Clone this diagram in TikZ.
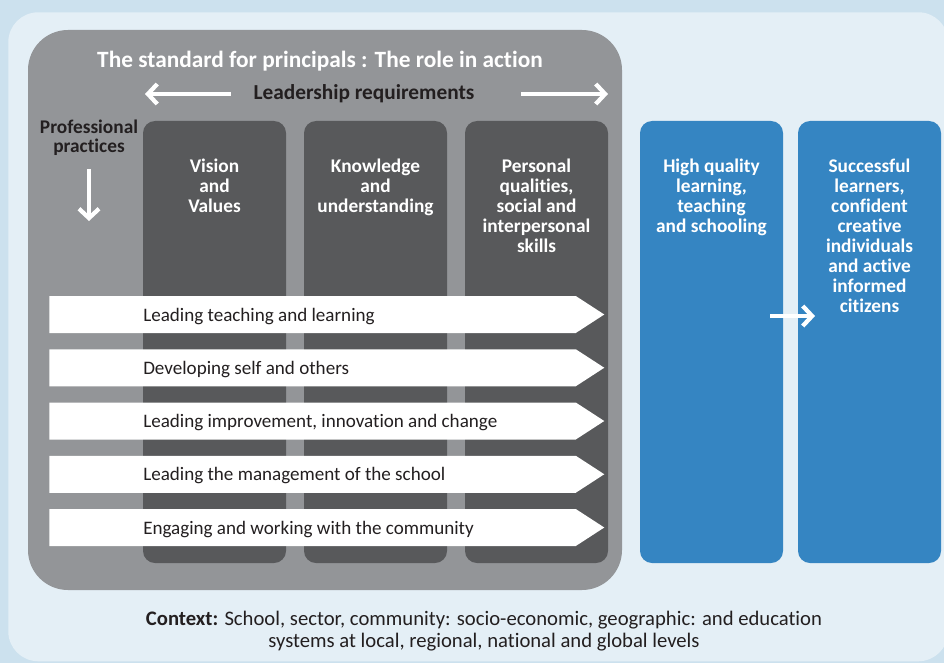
\documentclass[tikz,border=0pt]{standalone}
\usepackage{fontspec}
\setmainfont{Carlito}[Ligatures=NoCommon]
\usetikzlibrary{arrows.meta,shapes.symbols,positioning}

\definecolor{skyback}{HTML}{CCE1EE}
\definecolor{panelblue}{HTML}{E4EFF6}
\definecolor{stdgray}{HTML}{939598}
\definecolor{coldark}{HTML}{58595B}
\definecolor{outblue}{HTML}{3585C2}
\definecolor{inkblack}{HTML}{231F20}

\begin{document}
\begin{tikzpicture}[x=0.75pt,y=-0.75pt,>={Straight Barb[length=7pt,width=15pt]},
    colbox/.style={fill=coldark,rounded corners=9pt,minimum width=107.25pt,minimum height=331.5pt,inner sep=0pt},
    outbox/.style={colbox,fill=outblue},
    coltext/.style={text=white,font=\bfseries\fontsize{14.5}{15}\selectfont,align=center,anchor=north,inner sep=0pt},
    lead/.style={signal,signal to=east,fill=white,minimum width=416.25pt,minimum height=27.75pt,signal pointer angle=66,anchor=west,inner sep=0pt},
    leadtext/.style={text=inkblack,font=\fontsize{14.3}{15}\selectfont,anchor=west,inner sep=0pt},
    flow/.style={->,draw=white,line width=3.2pt}]
                \useasboundingbox (0,0) rectangle (944,663);
                \node[fill=skyback,anchor=north west,minimum width=708pt,minimum height=497.25pt,inner sep=0pt](sky)at(0, 0){};
                \node[fill=panelblue,rounded corners=22.5pt,anchor=north west,minimum width=705pt,minimum height=486.75pt,inner sep=0pt](panel)at(8, 12){};
                \node[fill=stdgray,rounded corners=30pt,minimum width=445.5pt,minimum height=420pt,inner sep=0pt](standard)at(325, 310){};

                \node[text=white,font=\bfseries\fontsize{17.5}{18}\selectfont](title)at(320, 61){The standard for principals : The role in action};
                \node[text=inkblack,font=\bfseries\fontsize{16}{18}\selectfont](leadreq)at(364, 94){Leadership requirements};
                \node[text=inkblack,font=\bfseries\fontsize{14.5}{14.25}\selectfont,align=center,inner sep=0pt](practices)at(89, 137.5){Professional\\practices};

                % leadership requirements columns
                \node[colbox](vision)at(214.5, 342){};
                \node[colbox](knowledge)at(375.5, 342){};
                \node[colbox](personal)at(536.5, 342){};
                \node[coltext]at([yshift=-28.5pt]vision.north){Vision\\and\\Values};
                \node[coltext]at([yshift=-28.5pt]knowledge.north){Knowledge\\and\\understanding};
                \node[coltext]at([yshift=-28.5pt]personal.north){Personal\\qualities,\\social and\\interpersonal\\skills};

                % outcomes
                \node[outbox](quality)at(711.5, 342){};
                \node[outbox](learners)at(869.5, 342){};
                \node[coltext]at([yshift=-28.5pt]quality.north){High quality\\learning,\\teaching\\and schooling};
                \node[coltext]at([yshift=-28.5pt]learners.north){Successful\\learners,\\confident\\creative\\individuals\\and active\\informed\\citizens};

                % professional practices
                \node[lead](lead1)at(49, 314.5){};
                \node[lead](lead2)at(49, 367.75){};
                \node[lead](lead3)at(49, 421){};
                \node[lead](lead4)at(49, 474.25){};
                \node[lead](lead5)at(49, 527.5){};
                \node[leadtext]at([xshift=70.5pt,yshift=-1.2pt]lead1.west){Leading teaching and learning};
                \node[leadtext]at([xshift=70.5pt,yshift=-1.2pt]lead2.west){Developing self and others};
                \node[leadtext]at([xshift=70.5pt,yshift=-1.2pt]lead3.west){Leading improvement, innovation and change};
                \node[leadtext]at([xshift=70.5pt,yshift=-1.2pt]lead4.west){Leading the management of the school};
                \node[leadtext]at([xshift=70.5pt,yshift=-1.2pt]lead5.west){Engaging and working with the community};

                \node[text=inkblack,font=\fontsize{15.5}{16.5}\selectfont,align=center](context)at(484, 631){\textbf{Context:} School, sector, community: socio-economic, geographic: and education\\systems at local, regional, national and global levels};

                \coordinate(reqL)at(145, 94);
                \coordinate(reqR)at(608, 94);
                \coordinate(pracEnd)at(89, 221);
                \coordinate(hopStart)at(770, 316);
                \coordinate(hopEnd)at(815, 316);
                \draw[flow]([xshift=-13.5pt]leadreq.west) -- (reqL);
                \draw[flow]([xshift=31.5pt]leadreq.east) -- (reqR);
                \draw[flow]([yshift=-10pt]practices.south) -- (pracEnd);
                \draw[flow](hopStart) -- (hopEnd);
            \end{tikzpicture}
\end{document}
